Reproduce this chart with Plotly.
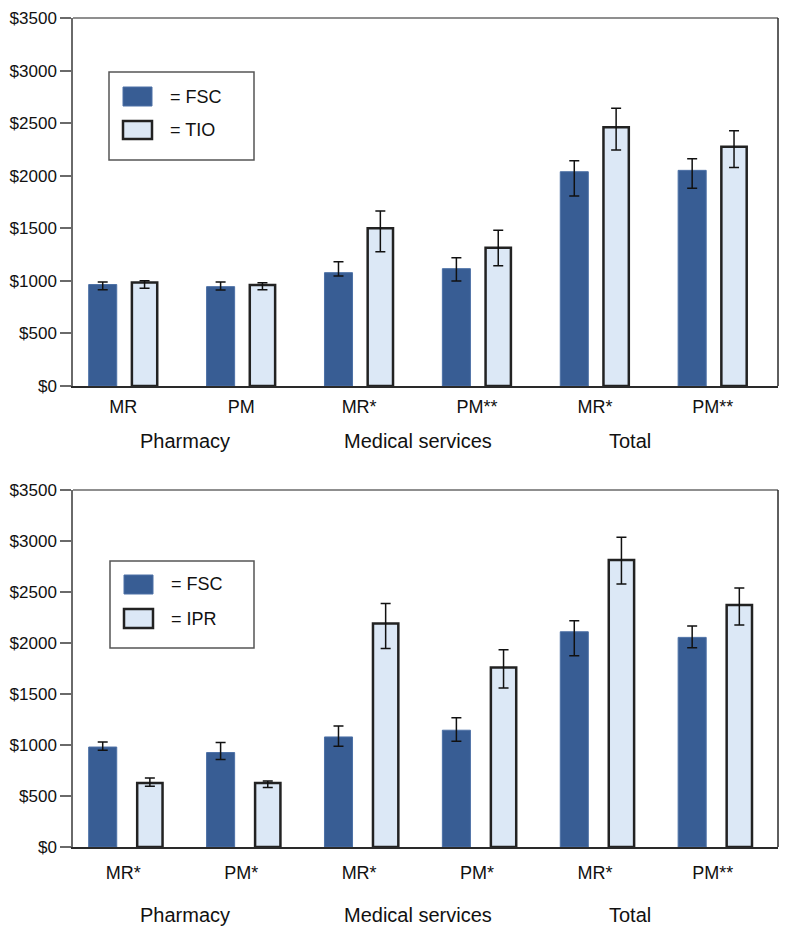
import plotly.graph_objects as go

# ---------------- data ----------------
positions = [0, 1, 2, 3, 4, 5]
group_labels = ["Pharmacy", "Medical services", "Total"]

top_subcats = ["MR", "PM", "MR*", "PM**", "MR*", "PM**"]
top_fsc = [965, 945, 1078, 1116, 2038, 2051]
top_fsc_low = [915, 913, 1046, 999, 1807, 1880]
top_fsc_high = [990, 990, 1182, 1220, 2143, 2162]
top_tio = [985, 960, 1500, 1315, 2460, 2276]
top_tio_low = [930, 915, 1277, 1144, 2245, 2079]
top_tio_high = [1000, 982, 1664, 1481, 2641, 2428]

bot_subcats = ["MR*", "PM*", "MR*", "PM*", "MR*", "PM**"]
bot_fsc = [980, 926, 1079, 1145, 2110, 2055]
bot_fsc_low = [949, 857, 988, 1037, 1874, 1953]
bot_fsc_high = [1030, 1024, 1187, 1266, 2218, 2166]
bot_ipr = [628, 628, 2192, 1760, 2813, 2372]
bot_ipr_low = [596, 583, 1947, 1560, 2578, 2176]
bot_ipr_high = [677, 648, 2388, 1933, 3036, 2539]

y_ticks = [0, 500, 1000, 1500, 2000, 2500, 3000, 3500]
y_ticklabels = ["$0", "$500", "$1000", "$1500", "$2000", "$2500", "$3000", "$3500"]

# ---------------- style ----------------
FSC_COLOR = "#385d94"
LIGHT_COLOR = "#dce8f6"
FONT = "Liberation Sans, Arial, sans-serif"
DARK_LINE = "#2a2a2a"
GRAY_LINE = "#6a6a6a"

OFF = 8  # default page body margin
W, H = 789 - OFF, 938 - OFF
ML, MR_, MT, MB = 73 - OFF, 11, 18 - OFF, 91
PW = W - ML - MR_
PH = H - MT - MB


def px(x):  # window pixel -> paper
    return (x - OFF - ML) / PW


def py(y):
    return (H - MB - (y - OFF)) / PH


def err(vals, lo, hi):
    return dict(type="data", symmetric=False,
                array=[h - v for v, h in zip(vals, hi)],
                arrayminus=[v - l for v, l in zip(vals, lo)],
                color="#111111", thickness=1.5, width=5)


fig = go.Figure()

# top chart
fig.add_trace(go.Bar(x=positions, y=top_fsc, xaxis="x", yaxis="y",
                     offset=-0.294, width=0.238,
                     marker=dict(color=FSC_COLOR, line=dict(color="#4d71a6", width=1)),
                     error_y=err(top_fsc, top_fsc_low, top_fsc_high), showlegend=False))
fig.add_trace(go.Bar(x=positions, y=top_tio, xaxis="x", yaxis="y",
                     offset=0.0725, width=0.215,
                     marker=dict(color=LIGHT_COLOR, line=dict(color="#222222", width=2.5)),
                     error_y=err(top_tio, top_tio_low, top_tio_high), showlegend=False))
# bottom chart
fig.add_trace(go.Bar(x=positions, y=bot_fsc, xaxis="x2", yaxis="y2",
                     offset=-0.294, width=0.238,
                     marker=dict(color=FSC_COLOR, line=dict(color="#4d71a6", width=1)),
                     error_y=err(bot_fsc, bot_fsc_low, bot_fsc_high), showlegend=False))
fig.add_trace(go.Bar(x=positions, y=bot_ipr, xaxis="x2", yaxis="y2",
                     offset=0.1175, width=0.215,
                     marker=dict(color=LIGHT_COLOR, line=dict(color="#222222", width=2.5)),
                     error_y=err(bot_ipr, bot_ipr_low, bot_ipr_high), showlegend=False))

top_dom = [py(386), py(18)]
bot_dom = [py(847), py(490)]

xcommon = dict(range=[-0.427, 5.553], tickvals=positions, showline=True, mirror=False,
               linecolor=DARK_LINE, linewidth=1.5, ticks="", showgrid=False, zeroline=False,
               tickfont=dict(family=FONT, size=18, color="#111111"), automargin=False)
ycommon = dict(range=[0, 3500], tickvals=y_ticks, ticktext=y_ticklabels,
               showline=True, mirror=False, linecolor=GRAY_LINE, linewidth=1.5,
               ticks="outside", ticklen=11, tickwidth=1.5, tickcolor=GRAY_LINE,
               showgrid=False, zeroline=False, automargin=False,
               tickfont=dict(family=FONT, size=17, color="#111111"))

fig.update_layout(
    width=W, height=H,
    margin=dict(l=ML, r=MR_, t=MT, b=MB),
    paper_bgcolor="white", plot_bgcolor="white",
    barmode="overlay",
    showlegend=False,
    xaxis=dict(domain=[0, 1], anchor="y", ticktext=top_subcats, ticklabelstandoff=4, **xcommon),
    yaxis=dict(domain=top_dom, anchor="x", **ycommon),
    xaxis2=dict(domain=[0, 1], anchor="y2", ticktext=bot_subcats, ticklabelstandoff=9, **xcommon),
    yaxis2=dict(domain=bot_dom, anchor="x2", **ycommon),
)

# top (gray) and right (dark) frame lines of each panel
for xr, yr in (("x domain", "y domain"), ("x2 domain", "y2 domain")):
    fig.add_shape(type="line", xref=xr, yref=yr, x0=0, x1=1, y0=1, y1=1,
                  line=dict(color=GRAY_LINE, width=1.5))
    fig.add_shape(type="line", xref=xr, yref=yr, x0=1, x1=1, y0=0, y1=1,
                  line=dict(color=DARK_LINE, width=1.5))

# group labels
group_x = [0.52, 2.5, 4.3]
for lbl, gx in zip(group_labels, group_x):
    fig.add_annotation(x=gx, xref="x", y=py(441), yref="paper", text=lbl, showarrow=False,
                       xanchor="center", yanchor="middle",
                       font=dict(family=FONT, size=20, color="#111111"))
    fig.add_annotation(x=gx, xref="x2", y=py(915), yref="paper", text=lbl, showarrow=False,
                       xanchor="center", yanchor="middle",
                       font=dict(family=FONT, size=20, color="#111111"))

# custom legends (boxes drawn in paper space)
legends = [
    dict(box=(109, 72, 254, 160), sw1=(123, 87, 152, 106), sw2=(123, 121, 152, 139),
         t1="= FSC", t2="= TIO", ty1=96.5, ty2=130, tx=168),
    dict(box=(110, 561, 254, 648), sw1=(124, 575, 153, 594), sw2=(124, 609, 153, 628),
         t1="= FSC", t2="= IPR", ty1=584.5, ty2=618.5, tx=169),
]
for lg in legends:
    x0, y0, x1, y1 = lg["box"]
    fig.add_shape(type="rect", xref="paper", yref="paper", x0=px(x0), x1=px(x1),
                  y0=py(y1), y1=py(y0), line=dict(color="#555555", width=1.5),
                  fillcolor="white")
    x0, y0, x1, y1 = lg["sw1"]
    fig.add_shape(type="rect", xref="paper", yref="paper", x0=px(x0), x1=px(x1),
                  y0=py(y1), y1=py(y0), line=dict(color="#4d71a6", width=1),
                  fillcolor=FSC_COLOR)
    x0, y0, x1, y1 = lg["sw2"]
    fig.add_shape(type="rect", xref="paper", yref="paper", x0=px(x0), x1=px(x1),
                  y0=py(y1), y1=py(y0), line=dict(color="#222222", width=2.5),
                  fillcolor=LIGHT_COLOR)
    for t, ty in ((lg["t1"], lg["ty1"]), (lg["t2"], lg["ty2"])):
        fig.add_annotation(x=px(lg["tx"]), xref="paper", y=py(ty), yref="paper", text=t,
                           showarrow=False, xanchor="left", yanchor="middle",
                           font=dict(family=FONT, size=18, color="#111111"))

fig.write_html("out.html")
